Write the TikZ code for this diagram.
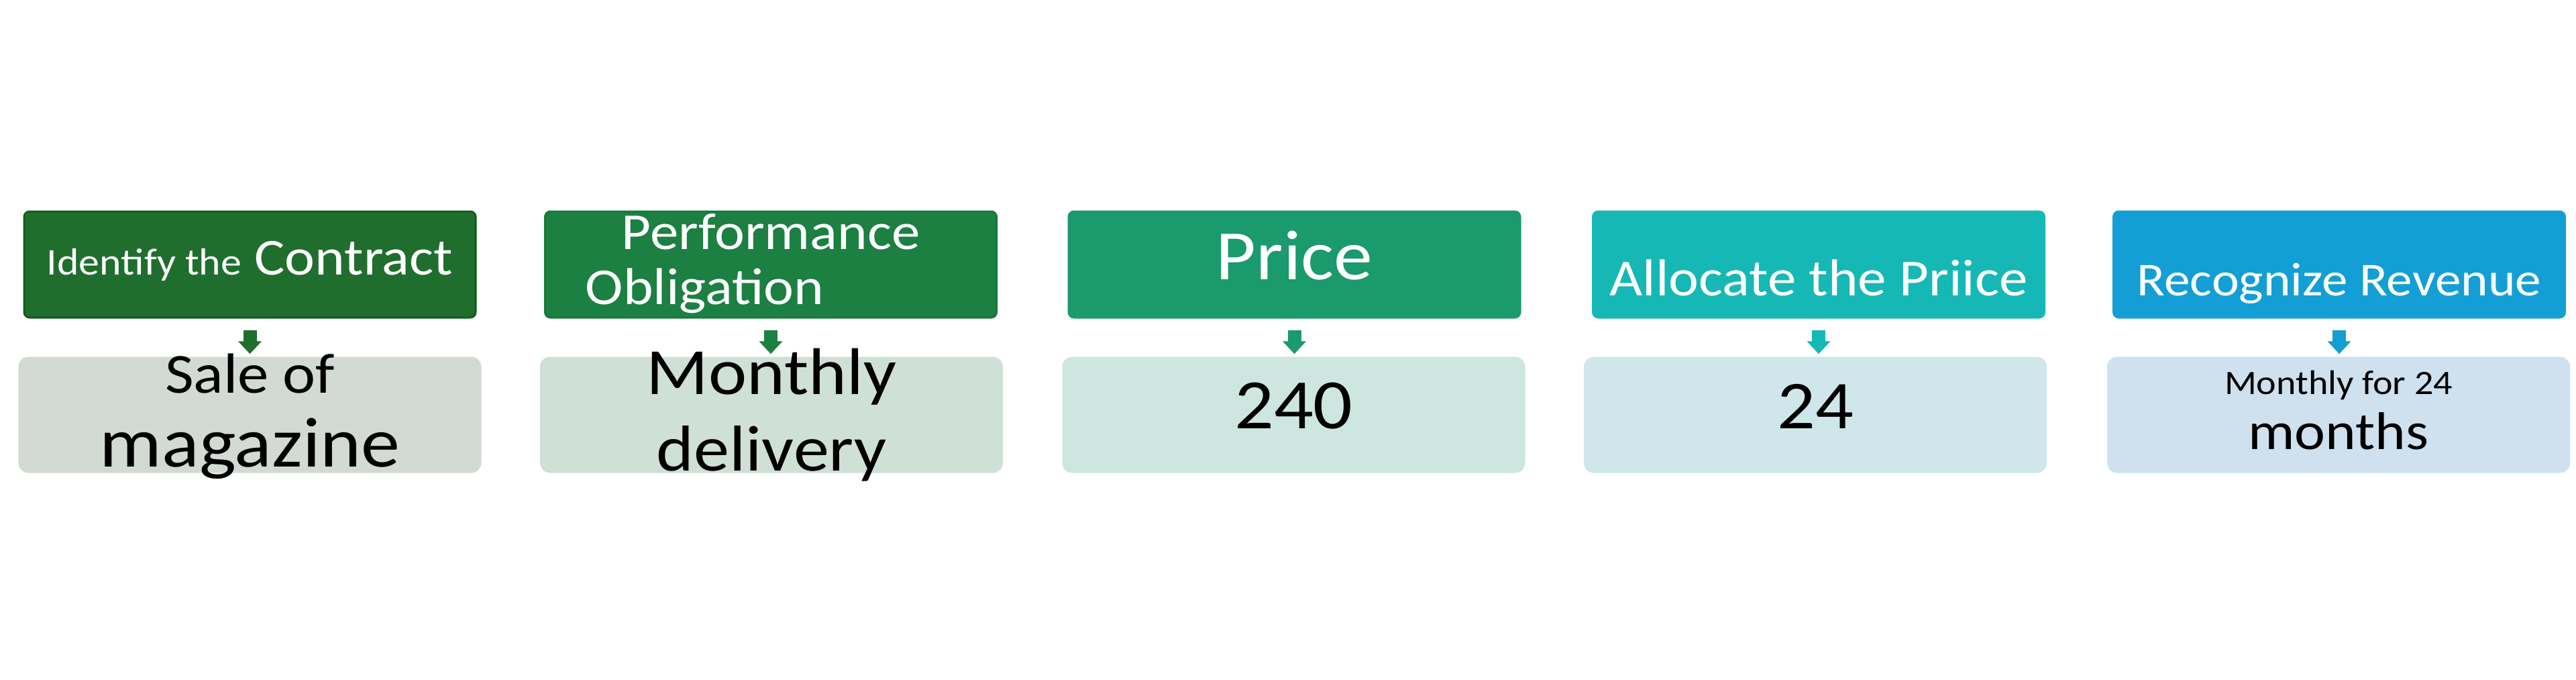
\documentclass[tikz,border=0pt]{standalone}
\usepackage{fontspec}
\setmainfont{Carlito}[FakeStretch=1.1]
\usetikzlibrary{arrows.meta}

\definecolor{contractgreen}{HTML}{1F6E2D}
\definecolor{contractedge}{HTML}{0E5E1C}
\definecolor{obligationgreen}{HTML}{1C8042}
\definecolor{obligationedge}{HTML}{137A38}
\definecolor{pricegreen}{HTML}{1A9A6D}
\definecolor{allocateteal}{HTML}{16B8B5}
\definecolor{revenueblue}{HTML}{139FD5}
\definecolor{contractpale}{HTML}{D3D9D3}
\definecolor{obligationpale}{HTML}{CFE0D6}
\definecolor{pricepale}{HTML}{CDE6DF}
\definecolor{allocatepale}{HTML}{CFE7EA}
\definecolor{revenuepale}{HTML}{CFE0EE}

\tikzset{
  topbox/.style={rectangle, rounded corners=0.08cm, minimum width=6.73cm,
    minimum height=1.58cm, line width=0.03cm},
  botbox/.style={rectangle, rounded corners=0.15cm, minimum width=6.9cm,
    minimum height=1.73cm},
  toptext/.style={anchor=base, text=white, inner sep=0pt},
  bottext/.style={anchor=base, text=black, inner sep=0pt},
  flowarrow/.style={line width=0.2cm, -{Triangle[width=0.34cm,length=0.19cm]},
    shorten <=0.17cm, shorten >=0.035cm}
}

\begin{document}
\begin{tikzpicture}
  \useasboundingbox[fill=white] (0,0) rectangle (38.4,10.12);

  % the five steps
  \node[topbox, fill=contractgreen, draw=contractedge] (contract) at (3.725,6.18) {};
  \node[topbox, fill=obligationgreen, draw=obligationedge] (obligation) at (11.49,6.18) {};
  \node[topbox, fill=pricegreen, draw=pricegreen] (price) at (19.295,6.18) {};
  \node[topbox, fill=allocateteal, draw=allocateteal] (allocate) at (27.11,6.18) {};
  \node[topbox, fill=revenueblue, draw=revenueblue] (revenue) at (34.87,6.18) {};

  % what each step gives
  \node[botbox, fill=contractpale] (sale) at (3.725,3.94) {};
  \node[botbox, fill=obligationpale] (delivery) at (11.5,3.94) {};
  \node[botbox, fill=pricepale] (amount) at (19.285,3.94) {};
  \node[botbox, fill=allocatepale] (share) at (27.06,3.94) {};
  \node[botbox, fill=revenuepale] (months) at (34.86,3.94) {};

  % step texts
  \node[toptext, font=\fontsize{22}{26}\selectfont] (contracttext)
    at ([yshift=-0.15cm]contract.center)
    {{\fontsize{16}{19}\selectfont Identify the} Contract};
  \node[toptext, font=\fontsize{22}{26}\selectfont] (obligationtop)
    at ([yshift=0.23cm]obligation.center) {Performance};
  \node[toptext, anchor=base west, font=\fontsize{22}{26}\selectfont] (obligationbot)
    at ([xshift=-2.77cm,yshift=-0.59cm]obligation.center) {Obligation};
  \node[toptext, font=\fontsize{30}{36}\selectfont] (pricetext)
    at ([yshift=-0.22cm]price.center) {Price};
  \node[toptext, font=\fontsize{22}{26}\selectfont] (allocatetext)
    at ([yshift=-0.46cm]allocate.center) {Allocate the Priice};
  \node[toptext, font=\fontsize{20}{24}\selectfont] (revenuetext)
    at ([yshift=-0.46cm]revenue.center) {Recognize Revenue};

  % result texts
  \node[bottext, font=\fontsize{24}{29}\selectfont] (saletop)
    at ([yshift=0.33cm]sale.center) {Sale of};
  \node[bottext, font=\fontsize{30}{36}\selectfont] (salebot)
    at ([yshift=-0.77cm]sale.center) {magazine};
  \node[bottext, font=\fontsize{28}{34}\selectfont] (deliverytop)
    at ([yshift=0.31cm]delivery.center) {Monthly};
  \node[bottext, font=\fontsize{27.5}{33}\selectfont] (deliverybot)
    at ([yshift=-0.83cm]delivery.center) {delivery};
  \node[bottext, font=\fontsize{30}{36}\selectfont] (amounttext)
    at ([yshift=-0.2cm]amount.center) {240};
  \node[bottext, font=\fontsize{29}{35}\selectfont] (sharetext)
    at ([yshift=-0.2cm]share.center) {24};
  \node[bottext, font=\fontsize{14.5}{17}\selectfont] (monthstop)
    at ([yshift=0.31cm]months.center) {Monthly for 24};
  \node[bottext, font=\fontsize{22.5}{27}\selectfont] (monthsbot)
    at ([yshift=-0.51cm]months.center) {months};

  % arrows
  \draw[flowarrow, contractgreen] (contract) -- (sale);
  \draw[flowarrow, obligationgreen] (obligation) -- (obligation |- delivery.north);
  \draw[flowarrow, pricegreen] (price) -- (price |- amount.north);
  \draw[flowarrow, allocateteal] (allocate) -- (allocate |- share.north);
  \draw[flowarrow, revenueblue] (revenue) -- (revenue |- months.north);
\end{tikzpicture}
\end{document}
